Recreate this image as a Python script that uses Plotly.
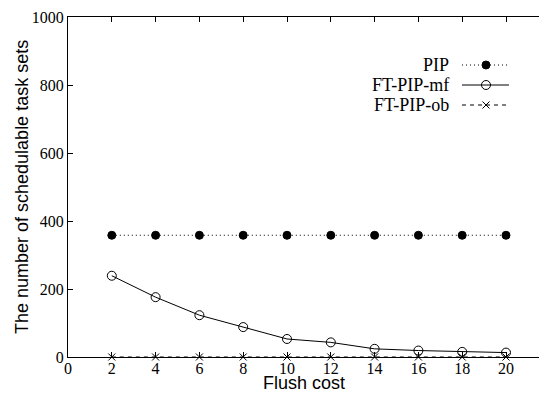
import plotly.graph_objects as go

flush_cost = [2, 4, 6, 8, 10, 12, 14, 16, 18, 20]
pip = [358, 358, 358, 358, 358, 358, 358, 358, 358, 358]
ft_pip_mf = [239, 176, 123, 88, 53, 43, 24, 19, 15, 13]
ft_pip_ob = [0, 0, 0, 0, 0, 0, 0, 0, 0, 0]

x_ticks = list(range(0, 21, 2))
y_ticks = [0, 200, 400, 600, 800, 1000]

series = [
    ("PIP", pip, "1px,3px", "circle", 8),
    ("FT-PIP-mf", ft_pip_mf, "solid", "circle-open", 9),
    ("FT-PIP-ob", ft_pip_ob, "4px,4px", "x-thin-open", 7),
]

SERIF = "Liberation Serif"
SANS = "Liberation Sans"

W, H = 539, 394
L, R, T, B = 68, 0, 17, 37
PW, PH = W - L - R, H - T - B


def px_x(px):
    return (px - L) / PW


def px_y(py):
    return (H - B - py) / PH


fig = go.Figure()
for name, vals, dash, sym, size in series:
    fig.add_trace(go.Scatter(
        x=flush_cost, y=vals, mode="lines+markers", name=name,
        line=dict(color="black", width=1, dash=dash),
        marker=dict(symbol=sym, size=size, color="black",
                    line=dict(color="black", width=1)),
        cliponaxis=False, showlegend=False,
    ))

# custom gnuplot-style legend (text right-aligned, key sample on the right)
rows = [65, 85, 105]
for (name, vals, dash, sym, size), yy in zip(series, rows):
    fig.add_trace(go.Scatter(
        x=[462, 486, 509], y=[yy, yy, yy], xaxis="x2", yaxis="y2",
        mode="lines", line=dict(color="black", width=1, dash=dash),
        showlegend=False, hoverinfo="skip", cliponaxis=False,
    ))
    fig.add_trace(go.Scatter(
        x=[486], y=[yy], xaxis="x2", yaxis="y2", mode="markers",
        marker=dict(symbol=sym, size=size, color="black",
                    line=dict(color="black", width=1)),
        showlegend=False, hoverinfo="skip", cliponaxis=False,
    ))
    fig.add_annotation(x=px_x(451), y=px_y(yy), xref="paper", yref="paper", text=name,
                       showarrow=False, xanchor="right", yanchor="middle",
                       font=dict(family=SERIF, size=18, color="black"))

# axis titles
fig.add_annotation(x=px_x(22), y=px_y(187), xref="paper", yref="paper",
                   text="The number of schedulable task sets", textangle=-90,
                   showarrow=False, xanchor="center", yanchor="middle",
                   font=dict(family=SANS, size=18, color="black"))
fig.add_annotation(x=px_x(304), y=px_y(394), xref="paper", yref="paper",
                   text="Flush cost", borderpad=0,
                   showarrow=False, xanchor="center", yanchor="bottom",
                   font=dict(family=SANS, size=18, color="black"))

x_max = PW / ((506 - 68) / 20)

fig.update_layout(
    width=W, height=H,
    margin=dict(l=L, r=R, t=T, b=B, pad=0),
    paper_bgcolor="white", plot_bgcolor="white",
    font=dict(family=SERIF, size=16, color="black"),
    showlegend=False,
    xaxis=dict(
        range=[0, x_max], tickmode="array",
        tickvals=x_ticks, ticktext=[str(v) for v in x_ticks],
        ticks="inside", ticklen=5, tickcolor="black",
        showline=True, linecolor="black", linewidth=1, mirror="ticks",
        showgrid=False, zeroline=False, ticklabelstandoff=-3,
        tickfont=dict(family=SERIF, size=16, color="black"),
    ),
    yaxis=dict(
        range=[0, 1000], tickmode="array",
        tickvals=y_ticks, ticktext=[str(v) for v in y_ticks],
        ticks="inside", ticklen=5, tickcolor="black",
        showline=True, linecolor="black", linewidth=1, mirror=False,
        showgrid=False, zeroline=False,
        tickfont=dict(family=SERIF, size=16, color="black"),
    ),
    xaxis2=dict(overlaying="x", range=[L, W], visible=False, fixedrange=True),
    yaxis2=dict(overlaying="y", range=[H - B, T], visible=False, fixedrange=True),
)

fig.write_html("out.html")
